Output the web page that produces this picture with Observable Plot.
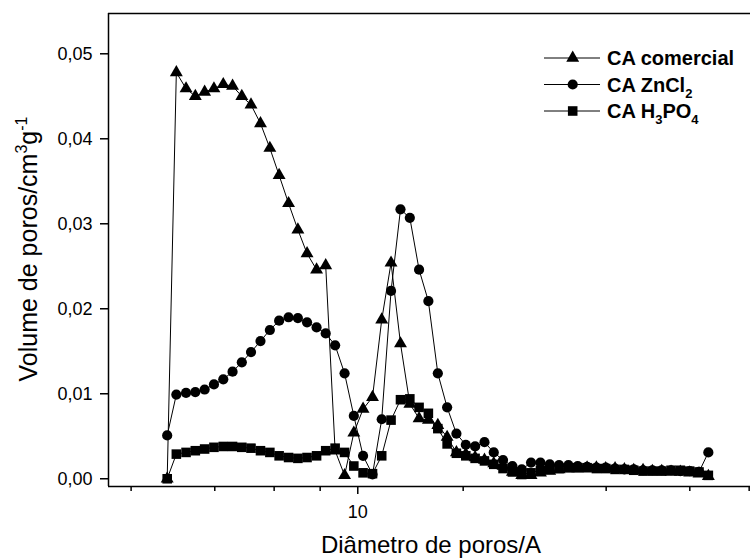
<!DOCTYPE html>
<html><head><meta charset="utf-8">
<script src="https://cdn.jsdelivr.net/npm/d3@7"></script>
<script src="https://cdn.jsdelivr.net/npm/@observablehq/plot@0.6"></script>
<style>body{margin:0;background:#fff} #chart{width:751px;height:558px}</style>
</head><body><div id="chart"></div>
<script>
const diameter = [3.97,4.15,4.35,4.55,4.76,4.98,5.21,5.45,5.70,5.96,
  6.24,6.53,6.83,7.15,7.48,7.82,8.19,8.56,8.96,9.38,
  9.81,10.26,10.74,11.23,11.75,12.30,12.87,13.46,14.08,14.74,
  15.42,16.13,16.88,17.66,18.48,19.33,20.22,21.16,22.14,23.16,
  24.24,25.36,26.53,27.76,29.04,30.39,31.79,33.26,34.80,36.41,
  38.10,39.86,41.70,43.63,45.65,47.76,49.97,52.28,54.70];
const caComercial = [0.0000,0.0478,0.0459,0.0450,0.0455,0.0459,0.0464,0.0462,0.0450,0.0440,
  0.0418,0.0389,0.0357,0.0324,0.0293,0.0265,0.0246,0.0251,0.0033,0.0004,
  0.0054,0.0082,0.0096,0.0187,0.0254,0.0159,0.0088,0.0071,0.0069,0.0063,
  0.0049,0.0031,0.0029,0.0025,0.0022,0.0018,0.0015,0.0008,0.0004,0.0004,
  0.0007,0.0009,0.0011,0.0012,0.0012,0.0013,0.0013,0.0012,0.0012,0.0011,
  0.0010,0.0010,0.0009,0.0009,0.0008,0.0008,0.0007,0.0006,0.0003];
const caZnCl2 = [0.0051,0.0099,0.0101,0.0102,0.0105,0.0111,0.0117,0.0126,0.0137,0.0149,
  0.0162,0.0175,0.0186,0.0190,0.0189,0.0184,0.0178,0.0171,0.0157,0.0124,
  0.0074,0.0027,0.0005,0.0070,0.0221,0.0317,0.0307,0.0246,0.0209,0.0124,
  0.0084,0.0053,0.0040,0.0038,0.0043,0.0031,0.0022,0.0015,0.0011,0.0019,
  0.0019,0.0017,0.0016,0.0016,0.0015,0.0014,0.0013,0.0013,0.0012,0.0011,
  0.0011,0.0010,0.0010,0.0010,0.0010,0.0009,0.0009,0.0008,0.0031];
const caH3PO4 = [0.0000,0.0029,0.0031,0.0033,0.0035,0.0037,0.0038,0.0038,0.0037,0.0036,
  0.0033,0.0031,0.0027,0.0025,0.0024,0.0025,0.0027,0.0033,0.0036,0.0031,
  0.0015,0.0007,0.0006,0.0027,0.0069,0.0093,0.0094,0.0084,0.0077,0.0059,
  0.0041,0.0030,0.0027,0.0024,0.0021,0.0017,0.0012,0.0008,0.0005,0.0007,
  0.0010,0.0011,0.0012,0.0013,0.0013,0.0013,0.0012,0.0012,0.0011,0.0011,
  0.0010,0.0009,0.0009,0.0009,0.0010,0.0010,0.0009,0.0008,0.0004];
const yTicks = [0, 0.01, 0.02, 0.03, 0.04, 0.05];
const xMajorTicks = [10];
const xMinorTicks = [3.333, 5, 6.667, 8.333, 16.667, 33.333, 50, 66.667];
const xDomain = [2.987, 67.1];
const yDomain = [-0.00091, 0.05474];
const seriesNames = ["CA comercial", "CA ZnCl2", "CA H3PO4"];
const seriesSymbols = ["triangle", "circle", "square"];
const seriesR = [4.8, 5.1, 5.4];
const legendParts = [[["CA comercial", false]], [["CA ZnCl", false], ["2", true]], [["CA H", false], ["3", true], ["PO", false], ["4", true]]];
const xTitle = "Diâmetro de poros/A";

const seriesValues = [caComercial, caZnCl2, caH3PO4];
const rows = seriesValues.map((vals, k) => vals.map((v, i) => ({x: diameter[i], y: v, s: seriesNames[k]})));
const fmt = d => d3.format(".2f")(d).replace(".", ",");
const font = "'Liberation Sans', Arial, sans-serif";

const marks = [
  Plot.ruleY([yDomain[0]], {stroke: "black", strokeWidth: 1.5}),
  Plot.ruleY([yDomain[1]], {stroke: "black", strokeWidth: 1.5}),
  Plot.ruleX([xDomain[0]], {stroke: "black", strokeWidth: 1.5}),
  Plot.axisY(yTicks, {tickSize: 8, tickPadding: 8, tickFormat: fmt, fontSize: 18, label: null, strokeWidth: 1.5}),
  Plot.axisX(xMinorTicks, {tickSize: 5, tickFormat: () => "", label: null, strokeWidth: 1.5}),
  Plot.axisX(xMajorTicks, {tickSize: 8, tickPadding: 11, tickFormat: d => String(d), fontSize: 18, label: null, strokeWidth: 1.5})
];
rows.forEach((r, k) => {
  marks.push(Plot.line(r, {x: "x", y: "y", stroke: "black", strokeWidth: 1}));
  marks.push(Plot.dot(r, {x: "x", y: "y", symbol: seriesSymbols[k], r: seriesR[k], fill: "black", stroke: "none"}));
});

const plot = Plot.plot({
  width: 751, height: 558,
  marginLeft: 108, marginRight: 1, marginTop: 13, marginBottom: 72,
  style: {fontFamily: font, fontSize: "18px", color: "#000", background: "#fff"},
  x: {type: "log", domain: xDomain},
  y: {domain: yDomain},
  marks
});
document.getElementById("chart").appendChild(plot);

const svg = d3.select(plot);
// y title
const yt = svg.append("text").attr("transform", "translate(37,249) rotate(-90)")
  .attr("text-anchor", "middle").attr("font-family", font).attr("font-size", 25).attr("fill", "#000");
yt.append("tspan").text("Volume de poros/cm");
yt.append("tspan").attr("font-size", 16).attr("dy", -10).text("3");
yt.append("tspan").attr("dy", 10).text("g");
yt.append("tspan").attr("font-size", 16).attr("dy", -10).text("-1");
// x title
svg.append("text").attr("x", 431).attr("y", 553).attr("text-anchor", "middle")
  .attr("font-family", font).attr("font-size", 24).attr("fill", "#000").text(xTitle);
// legend
const lg = svg.append("g").attr("font-family", font).attr("font-weight", "bold").attr("font-size", 20).attr("text-anchor", "start");
const rowY = [58, 84.5, 111];
const symMap = {triangle: d3.symbolTriangle, circle: d3.symbolCircle, square: d3.symbolSquare};
legendParts.forEach((parts, k) => {
  const y = rowY[k];
  lg.append("line").attr("x1", 544).attr("x2", 600).attr("y1", y).attr("y2", y).attr("stroke", "black").attr("stroke-width", 1);
  lg.append("path").attr("transform", `translate(572.7,${y})`)
    .attr("d", d3.symbol(symMap[seriesSymbols[k]], Math.PI * seriesR[k] * seriesR[k])()).attr("fill", "black");
  const t = lg.append("text").attr("x", 607).attr("y", y + 7).attr("fill", "#000").attr("text-anchor", "start");
  let shifted = false;
  parts.forEach(([txt, sub]) => {
    const ts = t.append("tspan").text(txt);
    if (sub) { ts.attr("font-size", 13).attr("dy", 6); shifted = true; }
    else if (shifted) { ts.attr("dy", -6); shifted = false; }
  });
});
</script>
</body></html>
